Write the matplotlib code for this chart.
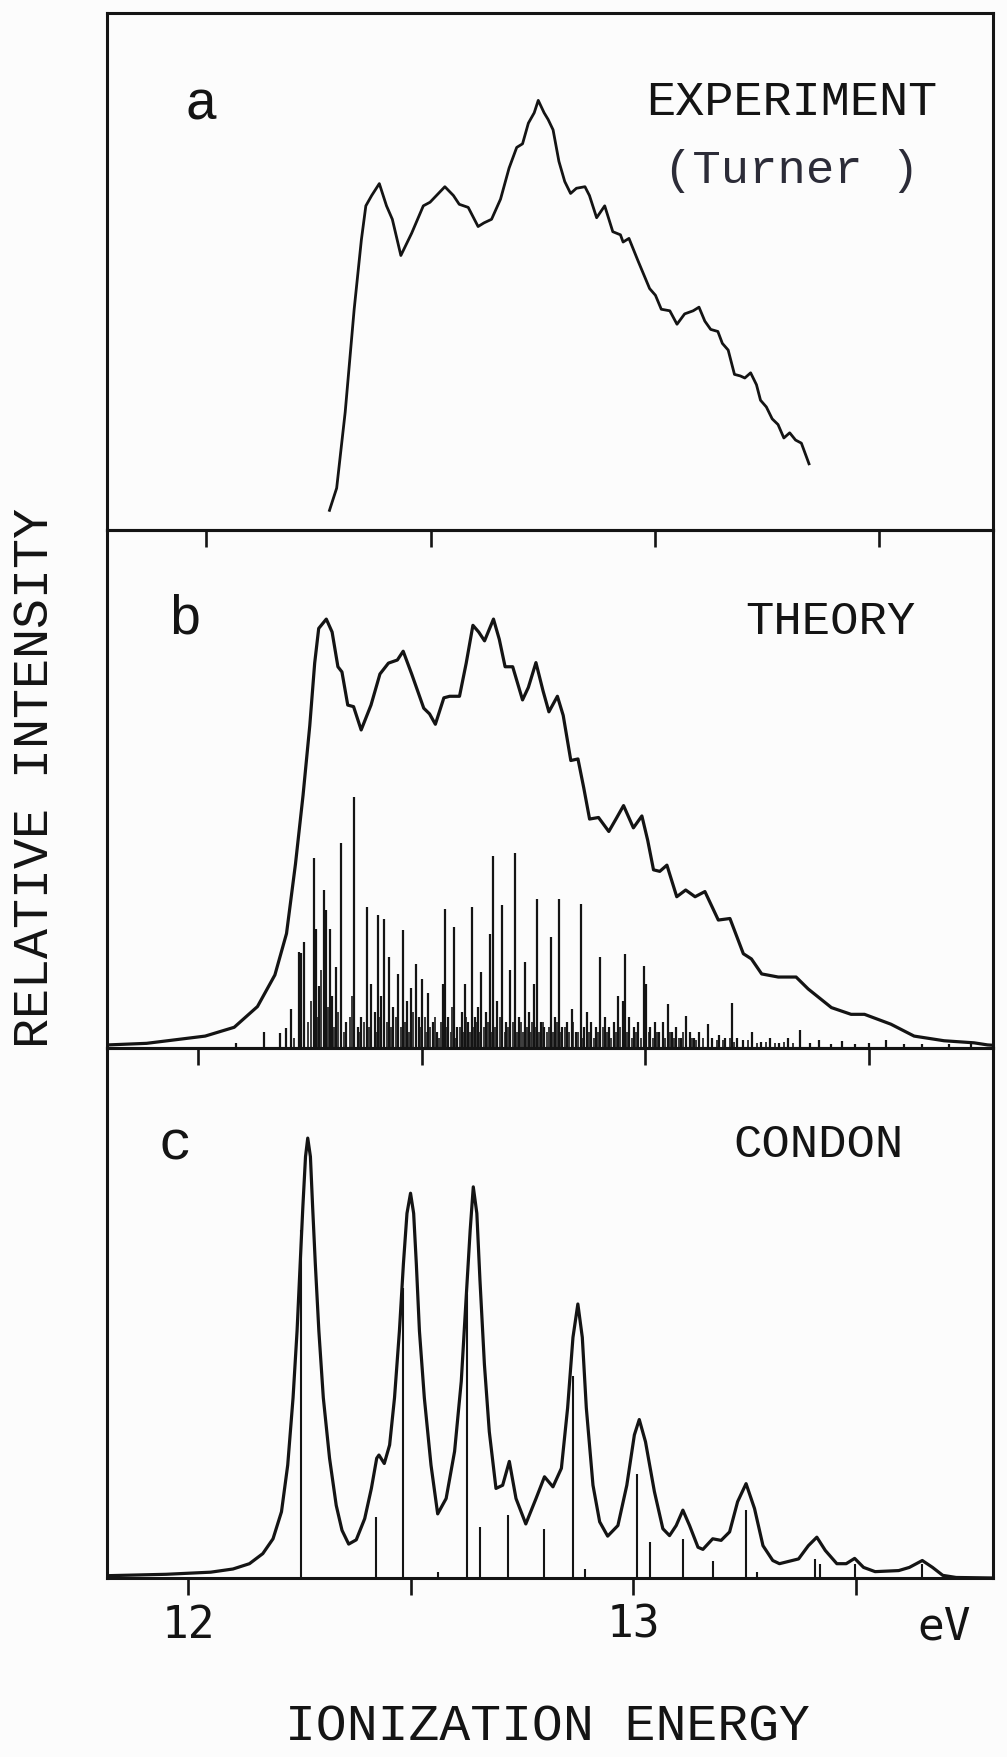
import matplotlib
matplotlib.use("Agg")
import matplotlib.pyplot as plt
import matplotlib.transforms as mtransforms

# ---------------- data ----------------
# panel a: experiment (Turner)
exp_ev = [12.275, 12.291, 12.310, 12.330, 12.346, 12.356, 12.369, 12.386, 12.402, 12.415,
          12.434, 12.458, 12.484, 12.499, 12.532, 12.551, 12.564, 12.584, 12.606, 12.619,
          12.636, 12.656, 12.675, 12.692, 12.705, 12.718, 12.731, 12.740, 12.753, 12.762,
          12.773, 12.786, 12.799, 12.812, 12.825, 12.844, 12.854, 12.870, 12.888, 12.906,
          12.923, 12.929, 12.942, 12.962, 12.988, 13.001, 13.014, 13.033, 13.049, 13.066,
          13.085, 13.098, 13.111, 13.124, 13.140, 13.150, 13.163, 13.177, 13.190, 13.200,
          13.213, 13.226, 13.235, 13.248, 13.261, 13.274, 13.287, 13.300, 13.313, 13.326,
          13.343]
exp_int = [0.038, 0.081, 0.228, 0.427, 0.561, 0.627, 0.647, 0.670, 0.627, 0.601,
           0.531, 0.574, 0.627, 0.634, 0.664, 0.647, 0.630, 0.624, 0.587, 0.594,
           0.601, 0.640, 0.700, 0.740, 0.747, 0.787, 0.807, 0.831, 0.807, 0.794,
           0.774, 0.713, 0.674, 0.651, 0.661, 0.664, 0.647, 0.604, 0.627, 0.577,
           0.571, 0.557, 0.564, 0.521, 0.467, 0.454, 0.427, 0.424, 0.398, 0.418,
           0.424, 0.431, 0.404, 0.388, 0.384, 0.361, 0.348, 0.301, 0.298, 0.294,
           0.304, 0.281, 0.251, 0.238, 0.215, 0.204, 0.178, 0.188, 0.174, 0.168,
           0.128]

# panel b: theory envelope
theo_ev = [11.800, 11.885, 12.016, 12.081, 12.133, 12.172, 12.198, 12.218, 12.235, 12.250,
           12.261, 12.270, 12.287, 12.300, 12.313, 12.322, 12.335, 12.348, 12.365, 12.387,
           12.407, 12.426, 12.446, 12.459, 12.478, 12.505, 12.518, 12.531, 12.550, 12.563,
           12.585, 12.600, 12.615, 12.628, 12.641, 12.661, 12.674, 12.687, 12.704, 12.726,
           12.739, 12.756, 12.772, 12.785, 12.804, 12.817, 12.834, 12.850, 12.863, 12.876,
           12.896, 12.919, 12.935, 12.952, 12.974, 12.993, 13.006, 13.019, 13.033, 13.049,
           13.071, 13.091, 13.112, 13.134, 13.164, 13.190, 13.220, 13.238, 13.261, 13.298,
           13.338, 13.365, 13.417, 13.461, 13.491, 13.550, 13.602, 13.669, 13.736, 13.766,
           13.800]
theo_int = [0.006, 0.009, 0.023, 0.040, 0.080, 0.141, 0.221, 0.355, 0.488, 0.622,
            0.743, 0.810, 0.828, 0.803, 0.736, 0.726, 0.662, 0.659, 0.614, 0.662,
            0.722, 0.743, 0.749, 0.766, 0.722, 0.656, 0.645, 0.625, 0.676, 0.679,
            0.679, 0.743, 0.816, 0.803, 0.786, 0.828, 0.789, 0.736, 0.736, 0.672,
            0.696, 0.744, 0.689, 0.649, 0.679, 0.642, 0.555, 0.558, 0.502, 0.442,
            0.445, 0.418, 0.442, 0.468, 0.425, 0.448, 0.401, 0.344, 0.341, 0.353,
            0.292, 0.305, 0.292, 0.302, 0.247, 0.250, 0.182, 0.172, 0.143, 0.137,
            0.137, 0.114, 0.078, 0.065, 0.065, 0.046, 0.023, 0.014, 0.010, 0.006,
            0.004]

# panel b: theory stick spectrum (stronger lines)
theo_stick_ev = [12.085, 12.148, 12.184, 12.197, 12.208, 12.226, 12.231, 12.238, 12.260, 12.264,
                 12.270, 12.282, 12.286, 12.295, 12.300, 12.308, 12.321, 12.330, 12.350, 12.357,
                 12.365, 12.377, 12.388, 12.395, 12.403, 12.410, 12.417, 12.428, 12.436, 12.448,
                 12.459, 12.468, 12.476, 12.487, 12.494, 12.502, 12.515, 12.525, 12.535, 12.548,
                 12.552, 12.560, 12.573, 12.580, 12.590, 12.597, 12.604, 12.612, 12.620, 12.627,
                 12.634, 12.645, 12.653, 12.661, 12.670, 12.681, 12.690, 12.699, 12.710, 12.718,
                 12.731, 12.740, 12.752, 12.759, 12.768, 12.775, 12.790, 12.798, 12.807, 12.815,
                 12.825, 12.836, 12.845, 12.856, 12.864, 12.870, 12.880, 12.890, 12.900, 12.910,
                 12.920, 12.930, 12.940, 12.950, 12.956, 12.965, 12.975, 12.985, 12.998, 13.003,
                 13.012, 13.022, 13.032, 13.040, 13.051, 13.060, 13.070, 13.080, 13.092, 13.100,
                 13.110, 13.120, 13.140, 13.150, 13.165, 13.180, 13.194, 13.205, 13.220, 13.240,
                 13.260, 13.280, 13.300, 13.320, 13.346, 13.370, 13.390, 13.415, 13.440, 13.470,
                 13.500, 13.540, 13.580, 13.620, 13.680, 13.730]
theo_stick_h = [0.010, 0.030, 0.028, 0.039, 0.075, 0.185, 0.183, 0.204, 0.366, 0.230,
                0.120, 0.305, 0.266, 0.230, 0.100, 0.156, 0.396, 0.050, 0.485, 0.040,
                0.060, 0.272, 0.123, 0.070, 0.256, 0.100, 0.250, 0.175, 0.080, 0.143,
                0.227, 0.090, 0.116, 0.162, 0.060, 0.133, 0.107, 0.050, 0.030, 0.123,
                0.269, 0.060, 0.234, 0.040, 0.070, 0.123, 0.050, 0.272, 0.060, 0.080,
                0.146, 0.070, 0.221, 0.371, 0.090, 0.276, 0.050, 0.150, 0.376, 0.060,
                0.166, 0.070, 0.123, 0.287, 0.050, 0.040, 0.214, 0.060, 0.287, 0.040,
                0.050, 0.075, 0.030, 0.278, 0.040, 0.070, 0.050, 0.040, 0.175, 0.060,
                0.040, 0.050, 0.100, 0.090, 0.182, 0.060, 0.040, 0.050, 0.159, 0.123,
                0.040, 0.050, 0.030, 0.050, 0.085, 0.030, 0.040, 0.020, 0.062, 0.030,
                0.020, 0.030, 0.047, 0.020, 0.025, 0.020, 0.086, 0.020, 0.015, 0.030,
                0.012, 0.020, 0.010, 0.020, 0.034, 0.010, 0.015, 0.008, 0.014, 0.008,
                0.010, 0.015, 0.008, 0.008, 0.008, 0.010]

# panel b: weak lines crowding the baseline
weak_stick_ev = [12.215, 12.245, 12.252, 12.268, 12.275, 12.290, 12.304, 12.314, 12.326, 12.340,
                 12.345, 12.362, 12.371, 12.382, 12.398, 12.407, 12.422, 12.432, 12.442, 12.453,
                 12.463, 12.472, 12.481, 12.498, 12.507, 12.511, 12.520, 12.530, 12.540, 12.544,
                 12.556, 12.565, 12.568, 12.576, 12.585, 12.593, 12.600, 12.608, 12.616, 12.624,
                 12.630, 12.639, 12.649, 12.657, 12.665, 12.675, 12.686, 12.694, 12.704, 12.714,
                 12.722, 12.727, 12.736, 12.745, 12.748, 12.756, 12.763, 12.772, 12.780, 12.785,
                 12.794, 12.802, 12.811, 12.820, 12.830, 12.840, 12.850, 12.860, 12.875, 12.885,
                 12.895, 12.905, 12.915, 12.925, 12.935, 12.945, 12.960, 12.970, 12.980, 12.992,
                 13.008, 13.017, 13.027, 13.045, 13.055, 13.065, 13.075, 13.086, 13.105, 13.115,
                 13.130, 13.160, 13.175, 13.190, 13.200, 13.230, 13.250, 13.270, 13.290, 13.310,
                 13.330]
weak_stick_h = [0.020, 0.050, 0.090, 0.060, 0.150, 0.080, 0.040, 0.070, 0.030, 0.060,
                0.100, 0.030, 0.050, 0.040, 0.030, 0.060, 0.050, 0.040, 0.060, 0.040,
                0.050, 0.030, 0.070, 0.040, 0.060, 0.030, 0.040, 0.060, 0.020, 0.050,
                0.040, 0.030, 0.080, 0.020, 0.040, 0.030, 0.060, 0.030, 0.040, 0.050,
                0.030, 0.040, 0.050, 0.030, 0.040, 0.060, 0.030, 0.040, 0.050, 0.030,
                0.050, 0.030, 0.040, 0.030, 0.050, 0.040, 0.030, 0.050, 0.030, 0.040,
                0.030, 0.050, 0.030, 0.040, 0.030, 0.050, 0.030, 0.020, 0.030, 0.020,
                0.030, 0.040, 0.030, 0.020, 0.030, 0.040, 0.030, 0.020, 0.030, 0.020,
                0.030, 0.020, 0.030, 0.020, 0.030, 0.020, 0.020, 0.030, 0.020, 0.015,
                0.020, 0.015, 0.015, 0.020, 0.012, 0.015, 0.010, 0.012, 0.010, 0.012,
                0.010]

# panel c: Condon envelope
cond_ev = [11.800, 11.950, 12.050, 12.100, 12.137, 12.167, 12.190, 12.209, 12.223, 12.235,
           12.244, 12.251, 12.257, 12.263, 12.268, 12.274, 12.279, 12.285, 12.293, 12.303,
           12.317, 12.332, 12.345, 12.360, 12.377, 12.396, 12.411, 12.423, 12.428, 12.440,
           12.452, 12.463, 12.474, 12.483, 12.491, 12.499, 12.506, 12.512, 12.519, 12.530,
           12.545, 12.560, 12.579, 12.598, 12.613, 12.624, 12.633, 12.640, 12.648, 12.655,
           12.665, 12.676, 12.691, 12.706, 12.721, 12.736, 12.758, 12.781, 12.800, 12.819,
           12.838, 12.852, 12.864, 12.875, 12.885, 12.894, 12.909, 12.924, 12.942, 12.965,
           12.985, 13.002, 13.013, 13.027, 13.047, 13.066, 13.081, 13.096, 13.111, 13.126,
           13.145, 13.156, 13.178, 13.197, 13.216, 13.234, 13.253, 13.272, 13.291, 13.313,
           13.328, 13.371, 13.393, 13.412, 13.431, 13.457, 13.478, 13.497, 13.517, 13.543,
           13.596, 13.620, 13.649, 13.672, 13.695, 13.725, 13.810]
cond_int = [0.004, 0.007, 0.011, 0.017, 0.027, 0.046, 0.074, 0.125, 0.213, 0.340,
            0.466, 0.593, 0.700, 0.795, 0.830, 0.795, 0.700, 0.593, 0.466, 0.340,
            0.226, 0.137, 0.090, 0.064, 0.072, 0.112, 0.169, 0.226, 0.232, 0.216,
            0.251, 0.340, 0.466, 0.593, 0.688, 0.726, 0.688, 0.593, 0.466, 0.340,
            0.213, 0.121, 0.150, 0.239, 0.371, 0.529, 0.656, 0.738, 0.688, 0.562,
            0.403, 0.276, 0.169, 0.175, 0.220, 0.150, 0.102, 0.150, 0.191, 0.172,
            0.207, 0.321, 0.454, 0.517, 0.454, 0.321, 0.175, 0.106, 0.079, 0.099,
            0.175, 0.270, 0.299, 0.257, 0.163, 0.093, 0.080, 0.099, 0.128, 0.099,
            0.058, 0.054, 0.074, 0.071, 0.087, 0.144, 0.178, 0.131, 0.061, 0.033,
            0.027, 0.036, 0.061, 0.077, 0.052, 0.027, 0.027, 0.037, 0.020, 0.012,
            0.014, 0.020, 0.033, 0.020, 0.005, 0.001, 0.000]

# panel c: Condon stick spectrum
cond_stick_ev = [12.253, 12.422, 12.483, 12.560, 12.625, 12.655, 12.719, 12.798, 12.864, 12.892,
                 13.007, 13.037, 13.111, 13.178, 13.252, 13.277, 13.407, 13.420, 13.497, 13.649]
cond_stick_h = [0.656, 0.115, 0.548, 0.012, 0.536, 0.096, 0.118, 0.093, 0.381, 0.017,
                0.197, 0.068, 0.074, 0.033, 0.128, 0.012, 0.036, 0.027, 0.027, 0.027]

tick_pos = [12.0, 12.5, 13.0, 13.5]
tick_lab = ["12", "", "13", ""]
# x ranges of the three panels (the scanned original is slightly skewed)
x_range_a = (11.7795, 13.7528)
x_range_b = (11.7964, 13.7785)
x_range_c = (11.8169, 13.8079)

# ---------------- figure ----------------
W, H = 1007, 1758
fig = plt.figure(figsize=(W / 100, H / 100), dpi=100)
fig.patch.set_facecolor("#fcfcfc")

MONO = ["Liberation Mono", "DejaVu Sans Mono"]
DMONO = ["DejaVu Sans Mono"]
INK = "#141414"

left_px, right_px = 107, 993
panels_px = [(14, 531), (531, 1049), (1049, 1579)]
ranges = [x_range_a, x_range_b, x_range_c]

axes = []
for (top, bot), xr in zip(panels_px, ranges):
    ax = fig.add_axes([left_px / W, 1 - bot / H, (right_px - left_px) / W, (bot - top) / H])
    ax.set_facecolor("none")
    ax.set_xlim(*xr)
    ax.set_ylim(0, 1)
    ax.set_yticks([])
    ax.set_xticks(tick_pos)
    ax.set_xticklabels([])
    ax.tick_params(axis="x", direction="out", length=12.2, width=1.9, color=INK)
    for s in ax.spines.values():
        s.set_linewidth(2.2)
        s.set_color(INK)
    axes.append(ax)

ax_a, ax_b, ax_c = axes

# panel a
ax_a.plot(exp_ev, exp_int, color=INK, lw=2.0, solid_joinstyle="round")

# panel b
ax_b.vlines(weak_stick_ev, 0, weak_stick_h, color="#2a2a2a", lw=1.3)
ax_b.vlines(theo_stick_ev, 0, theo_stick_h, color=INK, lw=1.6)
ax_b.plot(theo_ev, theo_int, color=INK, lw=2.3, solid_joinstyle="round")

# panel c
ax_c.vlines(cond_stick_ev, 0, cond_stick_h, color=INK, lw=1.5)
ax_c.plot(cond_ev, cond_int, color=INK, lw=2.3, solid_joinstyle="round")
ax_c.set_xticklabels(tick_lab, fontfamily=DMONO, fontsize=32, color=INK)
ax_c.tick_params(axis="x", pad=5.5)
trans = mtransforms.blended_transform_factory(ax_c.transData, fig.transFigure)
ax_c.text(13.698, 1 - 1640 / H, "eV", transform=trans, ha="center", va="baseline",
          fontfamily=DMONO, fontsize=32, color=INK)


def ftext(x, y, s, **kw):
    kw.setdefault("fontfamily", MONO)
    kw.setdefault("color", INK)
    fig.text(x / W, 1 - y / H, s, **kw)


ftext(201, 119, "a", fontsize=40, ha="center", va="baseline")
ftext(792, 115, "EXPERIMENT", fontsize=35, ha="center", va="baseline")
ftext(792, 183, "(Turner )", fontsize=34, ha="center", va="baseline", color="#2c2c38")
ftext(185, 634, "b", fontsize=40, ha="center", va="baseline")
ftext(830, 634, "THEORY", fontsize=34, ha="center", va="baseline")
ftext(175, 1160, "c", fontsize=40, ha="center", va="baseline")
ftext(819, 1157, "CONDON", fontsize=34, ha="center", va="baseline")
ftext(547, 1741, "IONIZATION ENERGY", fontsize=37, ha="center", va="baseline")
ftext(35, 778, "RELATIVE INTENSITY", fontsize=36, ha="center", va="center", rotation=90)

fig.savefig("out.png", dpi=100, facecolor=fig.get_facecolor())
